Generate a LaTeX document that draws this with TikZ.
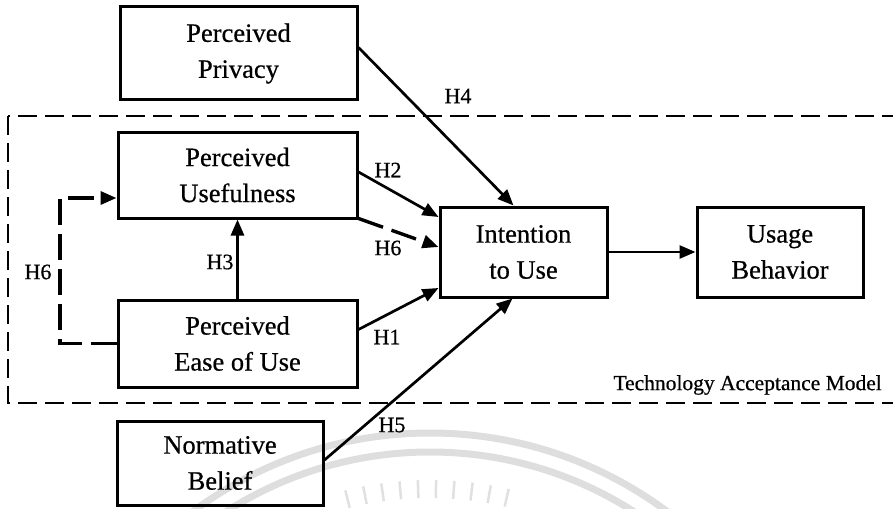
\documentclass[tikz,border=0pt]{standalone}
\usepackage{fontspec}
\setmainfont[FakeBold=0.6]{Liberation Serif}
\usetikzlibrary{arrows.meta,calc}

\tikzset{
  construct/.style={draw=black, line width=3pt, align=center,
    font=\fontsize{26.5}{36}\selectfont, inner sep=0pt},
  link/.style={line width=2.7pt, -{Triangle[length=16pt,width=13pt]}},
  dashlink/.style={line width=3.4pt, dash pattern=on 26pt off 9pt,
    -{Triangle[length=16pt,width=13pt]}},
  hyp/.style={font=\fontsize{22}{24}\selectfont, inner sep=0pt},
  frame/.style={line width=2.6pt, dash pattern=on 19pt off 8pt},
  seal/.style={draw=black!13, line width=7pt},
}

\begin{document}
\begin{tikzpicture}[x=1pt, y=-1pt]
\useasboundingbox (0,0) rectangle (893,508);
\clip (0,0) rectangle (893,508);

% faint seal in the background
\coordinate (sealc) at (430,830);
\draw[seal] (sealc) circle[radius=397];
\draw[seal] (sealc) circle[radius=378];
\foreach \a in {256,259,...,284}
  \draw[draw=black!12, line width=2.5pt] ($(sealc)+(\a:332)$) -- ($(sealc)+(\a:350)$);

% Technology Acceptance Model frame
\draw[frame] (8,116) rectangle (910,403);
\node[font=\fontsize{21.5}{24}\selectfont, anchor=east, inner sep=0pt] (tamlabel) at (882,385) {Technology Acceptance Model};

% constructs
\node[construct, minimum width=237pt, minimum height=93pt] (priv) at (238.5,53.5) {Perceived\\Privacy};
\node[construct, minimum width=239pt, minimum height=86pt] (pu) at (237.5,175) {Perceived\\Usefulness};
\node[construct, minimum width=239pt, minimum height=87pt] (peou) at (237.5,343.5) {Perceived\\Ease of Use};
\node[construct, minimum width=167pt, minimum height=90pt] (itu) at (523.5,252) {Intention\\to Use};
\node[construct, minimum width=166pt, minimum height=90pt] (ub) at (780,252) {Usage\\Behavior};
\node[construct, minimum width=206pt, minimum height=84pt] (nb) at (220,463) {Normative\\Belief};

% hypothesised paths
\draw[link] ($(priv.east)+(0,-6)$) -- ($(itu.north)+(-10,0)$);
\draw[link] ($(pu.east)+(0,-3)$) -- ($(itu.west)+(0,-35)$);
\draw[dashlink] ($(pu.south east)+(0,-1)$) -- ($(itu.west)+(0,-5)$);
\draw[link] ($(peou.east)+(0,-14)$) -- ($(itu.west)+(0,36)$);
\draw[link] ($(nb.east)+(0,-3)$) -- ($(itu.south)+(-11,0)$);
\draw[link] (peou.north) -- (pu.south);
\coordinate (bend) at (60,198);
\draw[dashlink] (peou.west) -| (bend) -- (pu.west |- bend);
\draw[link] (itu.east) -- (ub.west);

% hypothesis labels
\node[hyp] (h4) at (458,96) {H4};
\node[hyp] (h2) at (388,170) {H2};
\node[hyp] (h6a) at (388,248) {H6};
\node[hyp] (h3) at (220,262) {H3};
\node[hyp] (h6b) at (38,272) {H6};
\node[hyp] (h1) at (387,337) {H1};
\node[hyp] (h5) at (392,425) {H5};
\end{tikzpicture}
\end{document}
